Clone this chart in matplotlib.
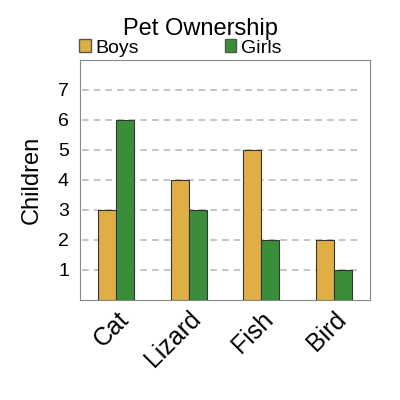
import matplotlib
matplotlib.use("Agg")
import matplotlib.pyplot as plt
import numpy as np
from matplotlib.patches import Patch

categories = ["Cat", "Lizard", "Fish", "Bird"]
boys = [3, 4, 5, 2]
girls = [6, 3, 2, 1]
yticks = [1, 2, 3, 4, 5, 6, 7]

plt.rcParams['font.family'] = ['Liberation Sans', 'DejaVu Sans']

fig = plt.figure(figsize=(4, 4), dpi=100)
ax = fig.add_axes([0.2, 0.25, 0.725, 0.6])

x = np.arange(len(categories))
w = 0.25
boy_c = "#DFAF45"
girl_c = "#3A8E3A"
ax.bar(x - w/2, boys, w, color=boy_c, edgecolor="#333333", linewidth=0.8, zorder=3)
ax.bar(x + w/2, girls, w, color=girl_c, edgecolor="#333333", linewidth=0.8, zorder=3)

ax.set_xlim(-0.5, 3.5)
ax.set_ylim(0, 8)
ax.set_yticks(yticks)
ax.set_yticklabels([str(t) for t in yticks], fontsize=14)
for t in yticks:
    ax.plot([-0.47, 3.37], [t, t], linestyle=(0, (4, 3)), color="#bbbbbb", linewidth=1.2, zorder=0)
ax.tick_params(axis='y', length=0, pad=8)
ax.set_xticks(x)
ax.set_xticklabels(categories, rotation=45, ha='right', rotation_mode='anchor', fontsize=18)
ax.tick_params(axis='x', length=0, pad=5)
for s in ax.spines.values():
    s.set_color("#888888")
ax.set_ylabel("Children", fontsize=17, labelpad=11)

fig.text(0.5, 0.927, "Pet Ownership", ha='center', va='center', fontsize=17)
handles = [Patch(facecolor=boy_c, edgecolor="#555555", label="Boys"),
           Patch(facecolor=girl_c, edgecolor="#555555", label="Girls")]
fig.legend(handles=handles, loc='center left', bbox_to_anchor=(0.198, 0.88), ncol=2,
           frameon=False, fontsize=14, handlelength=0.6, handleheight=0.6,
           handletextpad=0.25, columnspacing=4.4, borderaxespad=0, borderpad=0)

fig.savefig("out.png", dpi=100)
